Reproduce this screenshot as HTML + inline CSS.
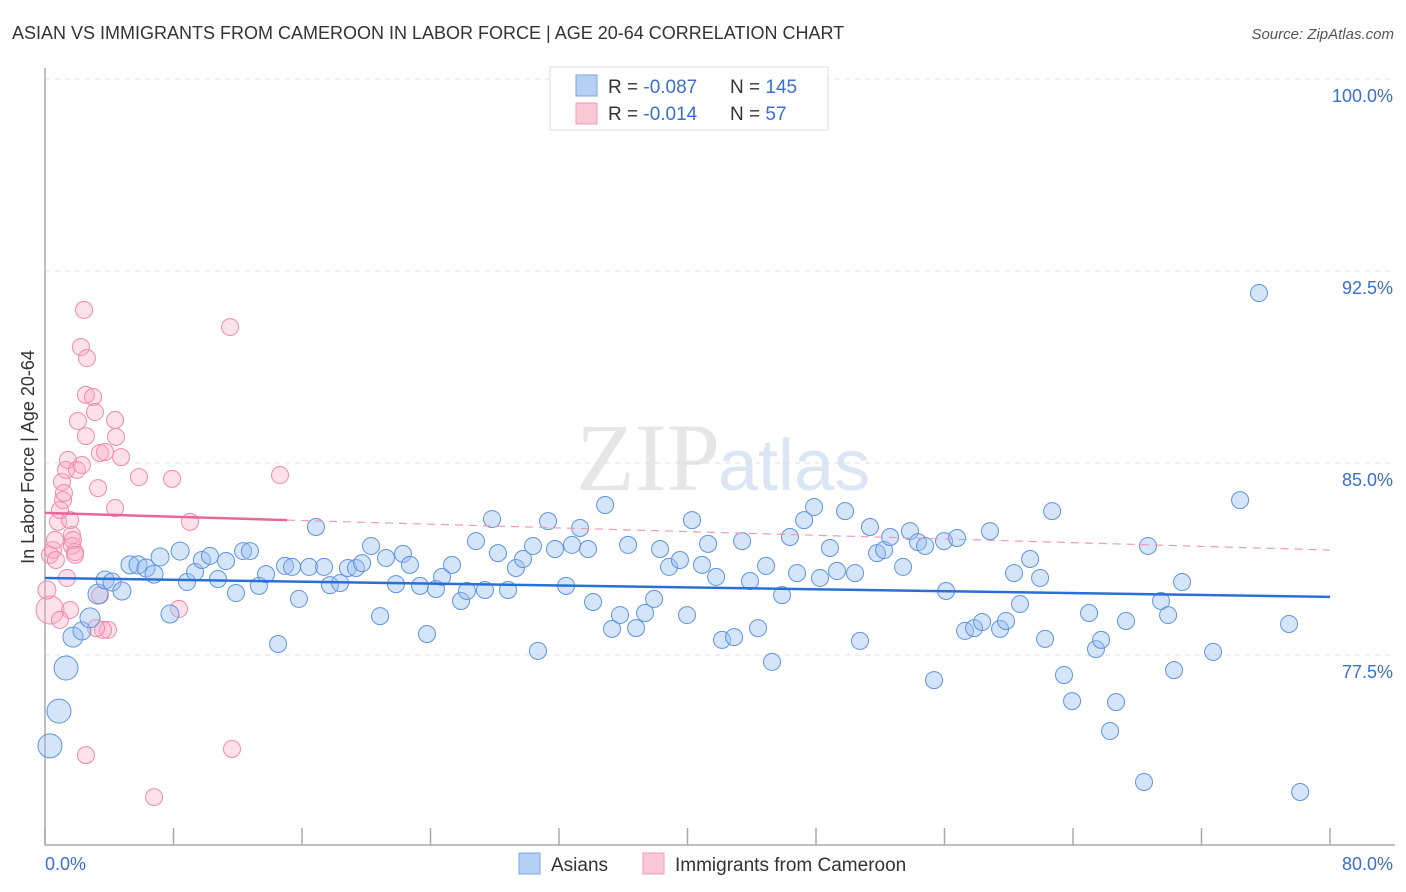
<!DOCTYPE html>
<html><head><meta charset="utf-8"><style>
body{margin:0;background:#fff;font-family:"Liberation Sans",sans-serif;}
#wrap{position:relative;width:1406px;height:892px;overflow:hidden;}
</style></head><body>
<div id="wrap">
<svg id="chart" width="1406" height="892" xmlns="http://www.w3.org/2000/svg">
<text x="12" y="39" font-size="18" fill="#333">ASIAN VS IMMIGRANTS FROM CAMEROON IN LABOR FORCE | AGE 20-64 CORRELATION CHART</text>
<text x="1394" y="39" font-size="15" fill="#555" font-style="italic" text-anchor="end">Source: ZipAtlas.com</text>
<text x="720" y="490" font-size="96" fill="#e6e6e6" text-anchor="end" font-family="Liberation Serif,serif">ZIP</text>
<text x="718" y="490" font-size="72" fill="#dbe6f5">atlas</text>
<g id="grid"></g>
<g id="axes"></g>
<g id="points"></g>
<g id="lines"></g>
<text transform="translate(34,457) rotate(-90)" font-size="18" fill="#333" text-anchor="middle">In Labor Force | Age 20-64</text>
<g>
<rect x="550" y="67" width="278" height="63" fill="#fff" stroke="#ddd"/>
<rect x="576" y="75" width="21" height="21" fill="#b5d0f3" stroke="#7aa6e6"/>
<rect x="576" y="103" width="21" height="21" fill="#fbc8d6" stroke="#f19ab5"/>
<text x="608" y="93" font-size="19" fill="#333">R = <tspan fill="#3a6fd0">-0.087</tspan></text>
<text x="730" y="93" font-size="19" fill="#333">N = <tspan fill="#3a6fd0">145</tspan></text>
<text x="608" y="120" font-size="19" fill="#333">R = <tspan fill="#3a6fd0"> -0.014</tspan></text>
<text x="730" y="120" font-size="19" fill="#333">N = <tspan fill="#3a6fd0">  57</tspan></text>
</g>
<g>
<rect x="519" y="853" width="21" height="21" fill="#b5d0f3" stroke="#7aa6e6"/>
<text x="551" y="871" font-size="19" fill="#333">Asians</text>
<rect x="643" y="853" width="21" height="21" fill="#fbc8d6" stroke="#f19ab5"/>
<text x="675" y="871" font-size="19" fill="#333">Immigrants from Cameroon</text>
</g>
</svg>
</div>
<script>
const yTicks=[100,92.5,85,77.5];
const yTickLabels=["100.0%","92.5%","85.0%","77.5%"];
const xTickVals=[0,8,16,24,32,40,48,56,64,72,80];
const asianX=[0.31,0.87,1.31,1.74,2.30,2.80,3.30,3.74,4.17,4.79,5.29,5.79,6.29,6.79,7.16,7.78,8.41,8.84,9.34,9.77,10.27,10.77,11.27,11.89,12.33,12.76,13.32,13.76,14.51,14.94,15.38,15.81,16.44,16.87,17.37,17.74,18.37,18.86,19.36,19.74,20.30,20.86,21.23,21.85,22.29,22.72,23.35,23.78,24.34,24.72,25.34,25.90,26.27,26.83,27.39,27.83,28.20,28.83,29.32,29.76,30.38,30.69,31.32,31.75,32.44,32.81,33.31,33.81,34.12,34.87,35.30,35.80,36.30,36.80,37.36,37.92,38.29,38.85,39.53,39.97,40.28,40.90,41.28,41.78,42.15,42.90,43.40,43.89,44.39,44.89,45.26,45.89,46.38,46.82,47.26,47.88,48.25,48.87,49.31,49.81,50.43,50.74,51.36,51.80,52.24,52.61,53.42,53.85,54.35,54.79,55.35,55.97,56.10,56.78,57.28,57.84,58.34,58.83,59.46,59.83,60.33,60.70,61.33,61.95,62.26,62.70,63.44,63.94,65.00,65.43,65.75,66.31,66.68,67.30,68.42,68.67,69.48,69.92,70.29,70.79,72.72,74.40,75.58,77.45,78.14];
const asianY=[73.95,75.31,76.99,78.20,78.44,78.95,79.88,80.43,80.35,80.0,81.02,81.02,80.90,80.66,81.33,79.10,81.56,80.35,80.74,81.21,81.37,80.47,81.17,79.92,81.56,81.56,80.20,80.66,77.93,80.98,80.94,79.69,80.94,82.5,80.94,80.23,80.31,80.90,80.90,81.09,81.76,79.02,81.29,80.27,81.45,81.02,80.20,78.32,80.08,80.55,81.02,79.61,80.0,81.95,80.04,82.81,81.48,80.04,80.90,81.25,81.76,77.66,82.73,81.64,80.20,81.80,82.46,81.64,79.57,83.36,78.52,79.06,81.80,78.55,79.14,79.69,81.64,80.94,81.21,79.06,82.77,81.02,81.84,80.55,78.09,78.20,81.95,80.39,78.55,80.98,77.23,79.84,82.11,80.70,82.77,83.28,80.51,81.68,80.78,83.12,80.70,78.05,82.5,81.48,81.60,82.11,80.94,82.34,81.91,81.76,76.52,81.95,80.0,82.07,78.44,78.55,78.79,82.34,78.52,78.83,80.70,79.49,81.25,80.51,78.13,83.12,76.72,75.70,79.14,77.73,78.09,74.53,75.66,78.83,72.54,81.76,79.61,79.06,76.91,80.35,77.62,83.55,91.64,78.71,72.15];
const asianSize=[12,12,12,10,9,10,10,9,9,9,9,9,9,9,9,9,9];
const camX=[0.31,0.12,0.31,0.50,0.68,0.62,0.81,0.93,1.12,1.06,1.18,1.31,1.43,1.68,1.68,1.87,1.56,1.74,1.87,1.99,2.05,2.30,2.55,2.43,2.24,2.61,2.55,2.99,3.11,3.30,3.42,3.42,3.74,3.92,1.56,1.37,4.36,4.42,4.36,4.73,5.85,7.91,8.34,9.03,11.52,11.64,14.63,6.79,2.55,3.61,3.18,0.93];
const camY=[79.26,80.04,81.41,81.6,81.21,81.99,82.70,83.16,83.55,84.26,83.83,84.73,85.12,82.19,81.76,81.52,82.77,81.99,81.41,84.73,86.64,84.92,86.05,90.98,89.53,89.10,87.66,87.58,86.99,84.02,79.84,85.39,85.43,78.48,79.26,80.51,86.68,86.02,83.24,85.23,84.45,84.38,79.30,82.70,90.31,73.83,84.53,71.95,73.59,78.48,78.55,78.87];
const camSize=[14,9];
const asianTrend=[80.51,79.77];
const camTrend=[83.05,82.77,81.6];
const camSolidEnd=15.07;

const NS="http://www.w3.org/2000/svg";
const X0=45,X1=1330,Y0=847,Y1=79,XMIN=0,XMAX=80,YMIN=70,YMAX=100;
function sx(v){return X0+(v-XMIN)/(XMAX-XMIN)*(X1-X0);}
function sy(v){return Y0-(v-YMIN)/(YMAX-YMIN)*(Y0-Y1);}
function mk(tag,attrs,parent){const e=document.createElementNS(NS,tag);for(const k in attrs)e.setAttribute(k,attrs[k]);parent.appendChild(e);return e;}
const grid=document.getElementById('grid'),axes=document.getElementById('axes'),pts=document.getElementById('points'),lines=document.getElementById('lines');
yTicks.forEach((v,i)=>{
 const l=mk('line',{x1:45,x2:1395,y1:sy(v),y2:sy(v),stroke:'#ddd','stroke-dasharray':'5,5'},grid);
 
 
 const t=mk('text',{x:1393,y:sy(v)+23,'font-size':18,fill:'#3a6fd0','text-anchor':'end'},grid);
 t.textContent=yTickLabels[i];
 
 
});
const ya=mk('line',{x1:45,x2:45,y1:68,y2:845,stroke:'#aaa','stroke-width':1.5},axes);


const xa=mk('line',{x1:45,x2:1395,y1:845,y2:845,stroke:'#aaa','stroke-width':1.5},axes);


xTickVals.forEach(v=>{
 const t=mk('line',{x1:sx(v),x2:sx(v),y1:828,y2:845,stroke:'#aaa','stroke-width':1.5},axes);
 
 
});
const xl0=mk('text',{x:45,y:870,'font-size':18,fill:'#3a6fd0'},axes);xl0.textContent='0.0%';


const xl1=mk('text',{x:1393,y:870,'font-size':18,fill:'#3a6fd0','text-anchor':'end'},axes);xl1.textContent='80.0%';


camX.forEach((v,i)=>{
 const c=mk('circle',{cx:sx(v),cy:sy(camY[i]),r:camSize[i]||8.5,fill:'rgba(248,170,195,0.35)',stroke:'#f08aaa','stroke-width':1},pts);
 
 
});
asianX.forEach((v,i)=>{
 const c=mk('circle',{cx:sx(v),cy:sy(asianY[i]),r:asianSize[i]||8.5,fill:'rgba(150,190,240,0.4)',stroke:'#5f93df','stroke-width':1},pts);
 
 
});
const bl=mk('line',{x1:sx(0),y1:sy(asianTrend[0]),x2:sx(80),y2:sy(asianTrend[1]),stroke:'#2a6fd6','stroke-width':2.5},lines);


const pl=mk('line',{x1:sx(0),y1:sy(camTrend[0]),x2:sx(camSolidEnd),y2:sy(camTrend[1]),stroke:'#e8679a','stroke-width':2.5},lines);


const pd=mk('line',{x1:sx(camSolidEnd),y1:sy(camTrend[1]),x2:sx(80),y2:sy(camTrend[2]),stroke:'#eb9ab8','stroke-width':1.2,'stroke-dasharray':'8,6'},lines);


</script>
</body></html>
